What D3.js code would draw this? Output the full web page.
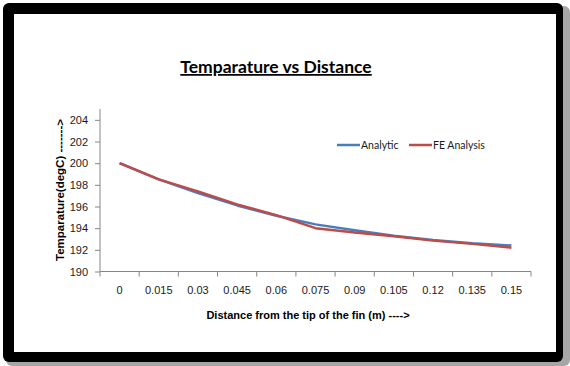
<!DOCTYPE html>
<html lang="en">
<head>
  <meta charset="utf-8" />
  <title>Temparature vs Distance</title>
  <script src="https://d3js.org/d3.v7.min.js"></script>
  <style>
    body {
      margin: 0;
      background: #ffffff;
    }
    svg text {
      font-family: "Liberation Sans", Arial, sans-serif;
    }
    .axis path, .axis line {
      stroke: #868686;
    }
    .axis text {
      font-size: 11px;
      fill: #1a1a1a;
    }
  </style>
</head>
<body>
<svg id="chart" width="570" height="366"></svg>

<script>
var distances = ["0", "0.015", "0.03", "0.045", "0.06", "0.075", "0.09", "0.105", "0.12", "0.135", "0.15"];
var analytic = [200, 198.5, 197.25, 196.1, 195.15, 194.35, 193.8, 193.3, 192.9, 192.6, 192.4];
var feAnalysis = [200, 198.5, 197.4, 196.2, 195.2, 194.0, 193.6, 193.25, 192.85, 192.55, 192.2];
var yTicks = [190, 192, 194, 196, 198, 200, 202, 204];

var seriesList = [
  { name: "Analytic", values: analytic, color: "#4a7ebb" },
  { name: "FE Analysis", values: feAnalysis, color: "#be4b48" }
];

var svg = d3.select("#chart");

// frame with shadow
svg.append("rect")
  .attr("x", 6).attr("y", 6).attr("width", 564).attr("height", 360)
  .attr("rx", 6).attr("fill", "#a6a6a6");
svg.append("rect")
  .attr("x", 3).attr("y", 3).attr("width", 560).attr("height", 359)
  .attr("rx", 6).attr("fill", "#000000");
svg.append("rect")
  .attr("x", 14).attr("y", 14).attr("width", 542).attr("height", 338)
  .attr("fill", "#ffffff");

var plotLeft = 100, plotRight = 531, plotTop = 109, plotBottom = 271.5;

var x = d3.scaleBand()
  .domain(distances)
  .range([plotLeft, plotRight]);

var y = d3.scaleLinear()
  .domain([190, 205])
  .range([plotBottom, plotTop]);

// title
svg.append("text")
  .attr("x", 276).attr("y", 73)
  .attr("text-anchor", "middle")
  .style("font-family", "Lato, 'Open Sans', sans-serif")
  .style("font-size", "17.5px")
  .style("font-weight", "bold")
  .style("text-decoration", "underline")
  .text("Temparature vs Distance");

// y axis
var yAxis = svg.append("g")
  .attr("class", "axis")
  .attr("transform", "translate(" + plotLeft + ",0)")
  .call(d3.axisLeft(y).tickValues(yTicks).tickSize(5).tickPadding(7).tickFormat(d3.format("d")));
yAxis.select(".domain").attr("d", "M0," + plotTop + "V" + plotBottom);

// x axis
var xAxis = svg.append("g")
  .attr("class", "axis")
  .attr("transform", "translate(0," + plotBottom + ")")
  .call(d3.axisBottom(x).tickSize(0).tickPadding(15));
xAxis.select(".domain").attr("d", "M" + plotLeft + ",0H" + plotRight);
xAxis.selectAll(".sep")
  .data(d3.range(distances.length + 1))
  .enter().append("line")
  .attr("class", "sep")
  .attr("x1", function(i) { return plotLeft + i * x.step(); })
  .attr("x2", function(i) { return plotLeft + i * x.step(); })
  .attr("y1", 0).attr("y2", 5)
  .attr("stroke", "#868686");

// axis titles
svg.append("text")
  .attr("transform", "translate(64,190) rotate(-90)")
  .attr("text-anchor", "middle")
  .style("font-size", "11.5px")
  .style("font-weight", "bold")
  .text("Temparature(degC)  ------->");

svg.append("text")
  .attr("x", 308).attr("y", 319)
  .attr("text-anchor", "middle")
  .style("font-size", "11px")
  .style("font-weight", "bold")
  .text("Distance from the tip of the fin (m)  ---->");

// lines
var line = d3.line()
  .x(function(d, i) { return x(distances[i]) + x.bandwidth() / 2; })
  .y(function(d) { return y(d); });

svg.selectAll(".series")
  .data(seriesList)
  .enter().append("path")
  .attr("class", "series")
  .attr("d", function(s) { return line(s.values); })
  .attr("fill", "none")
  .attr("stroke", function(s) { return s.color; })
  .attr("stroke-width", 2.5)
  .attr("stroke-linejoin", "round");

// legend
var legendX = [337, 409];
var legend = svg.selectAll(".legend")
  .data(seriesList)
  .enter().append("g")
  .attr("class", "legend")
  .attr("transform", function(s, i) { return "translate(" + legendX[i] + ",145)"; });
legend.append("line")
  .attr("x1", 0).attr("x2", 23)
  .attr("stroke", function(s) { return s.color; })
  .attr("stroke-width", 2.5);
legend.append("text")
  .attr("x", 24).attr("y", 4)
  .style("font-family", "Lato, 'Open Sans', sans-serif")
  .style("font-size", "10.5px")
  .style("fill", "#1a1a1a")
  .text(function(s) { return s.name; });
</script>
</body>
</html>
